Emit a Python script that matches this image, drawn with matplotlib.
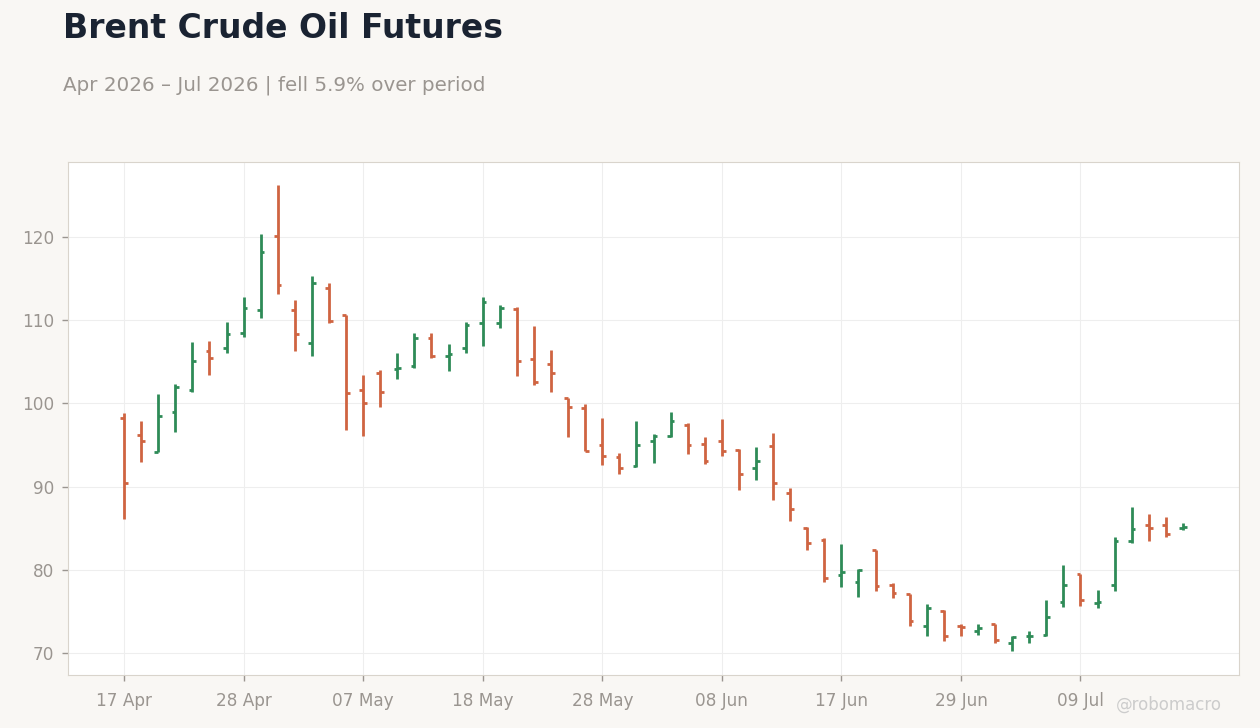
import matplotlib

matplotlib.use("Agg")

import matplotlib.pyplot as plt
import numpy as np
import pandas as pd

# trading days, US market holidays skipped
holidays = ["2026-05-25", "2026-06-19", "2026-07-03"]
dates = pd.bdate_range("2026-04-17", "2026-07-17")
dates = dates[~dates.isin(pd.to_datetime(holidays))]

opens = [98.3, 96.2, 94.1, 99.0, 101.6, 106.3, 106.6, 108.4, 111.2, 120.1,
         111.2, 107.2, 113.9, 110.6, 101.6, 103.7, 104.1, 104.5, 107.8, 105.7,
         106.7, 109.7, 109.6, 111.3, 105.3, 104.7, 100.6, 99.5, 95.0, 93.5,
         92.5, 95.5, 96.1, 97.4, 95.1, 95.5, 94.4, 92.2, 94.9, 89.2,
         85.0, 83.6, 79.4, 78.5, 82.4, 78.2, 77.1, 73.2, 75.1, 73.3,
         72.7, 73.5, 71.2, 72.0, 72.2, 76.1, 79.5, 76.0, 78.2, 83.5,
         85.4, 85.4, 85.0]
highs = [98.9, 97.9, 101.1, 102.3, 107.4, 107.5, 109.8, 112.8, 120.4, 126.2,
         112.4, 115.3, 114.5, 110.6, 103.4, 104.0, 106.1, 108.5, 108.4, 107.1,
         109.8, 112.8, 111.8, 111.6, 109.3, 106.4, 100.7, 99.9, 98.2, 94.0,
         97.9, 96.3, 99.0, 97.6, 95.9, 98.1, 94.5, 94.7, 96.4, 89.8,
         85.2, 83.8, 83.1, 80.1, 82.4, 78.4, 77.1, 75.9, 75.2, 73.5,
         73.5, 73.5, 72.0, 72.7, 76.4, 80.6, 79.5, 77.6, 83.9, 87.6,
         86.7, 86.3, 85.6]
lows = [86.1, 92.9, 94.1, 96.6, 101.4, 103.4, 106.0, 108.0, 110.3, 113.1,
        106.3, 105.7, 109.7, 96.8, 96.1, 99.6, 102.9, 104.2, 105.4, 103.9,
        106.1, 106.9, 109.0, 103.3, 102.2, 101.4, 96.0, 94.3, 92.6, 91.5,
        92.4, 92.8, 96.0, 93.9, 92.7, 93.7, 89.6, 90.8, 88.4, 85.9,
        82.4, 78.5, 77.9, 76.7, 77.4, 76.6, 73.2, 72.1, 71.5, 72.0,
        72.2, 71.2, 70.2, 71.2, 72.1, 75.5, 75.7, 75.4, 77.4, 83.2,
        83.5, 83.9, 84.8]
closes = [90.4, 95.5, 98.5, 102.0, 105.1, 105.4, 108.3, 111.4, 118.2, 114.2,
          108.3, 114.5, 109.9, 101.3, 100.1, 101.4, 104.3, 107.9, 105.7, 105.9,
          109.4, 112.2, 111.4, 105.1, 102.6, 103.6, 99.6, 94.3, 93.7, 92.2,
          95.0, 96.1, 97.9, 95.0, 93.1, 94.3, 91.5, 93.1, 90.4, 87.3,
          83.2, 79.0, 79.7, 80.0, 78.0, 77.2, 73.8, 75.4, 72.1, 73.1,
          73.0, 71.6, 71.9, 72.1, 74.3, 78.2, 76.4, 76.1, 83.5, 84.9,
          85.0, 84.3, 85.1]

UP_COLOR = "#2e8b57"
DOWN_COLOR = "#cf6441"
BG = "#f9f7f4"

fig = plt.figure(figsize=(12.6, 7.28), dpi=100, facecolor=BG)
ax = fig.add_axes([68 / 1260, 1 - 675 / 728, (1239 - 68) / 1260, (675 - 162) / 728])
ax.set_facecolor("white")

x = np.arange(len(dates))
o, h, l, c = (np.array(v) for v in (opens, highs, lows, closes))
colors = [UP_COLOR if cc >= oo else DOWN_COLOR for oo, cc in zip(o, c)]
tick = 0.22

ax.vlines(x, l, h, colors=colors, linewidth=2, zorder=3)
ax.hlines(o, x - tick, x, colors=colors, linewidth=2, zorder=3)
ax.hlines(c, x, x + tick, colors=colors, linewidth=2, zorder=3)

ax.set_xlim(-3.28, len(dates) - 1 + 3.28)
ax.set_ylim(67.36, 129.0)
ax.set_yticks([70, 80, 90, 100, 110, 120])

tick_idx = list(range(0, len(dates), 7))
ax.set_xticks(tick_idx)
ax.set_xticklabels([dates[i].strftime("%d %b") for i in tick_idx])

ax.grid(True, color="#eeeeee", linewidth=0.8, zorder=0)
ax.set_axisbelow(True)
for s in ax.spines.values():
    s.set_color("#d9d4cc")
ax.tick_params(colors="#9a9590", labelsize=12.2, length=4, width=1)
ax.tick_params(axis="x", pad=8)
ax.tick_params(axis="y", pad=6)

fig.text(63 / 1260, 1 - 29 / 728, "Brent Crude Oil Futures", fontsize=23.8,
         fontweight="bold", color="#1a2332", va="center", ha="left")
pct = (closes[-1] / closes[0] - 1) * 100
direction = "fell" if pct < 0 else "rose"
fig.text(63 / 1260, 1 - 85 / 728,
         "Apr 2026 \u2013 Jul 2026 | {} {:.1f}% over period".format(direction, abs(pct)),
         fontsize=14.3, color="#9a9590", va="center", ha="left")
fig.text(1222 / 1260, 1 - 705 / 728, "@robomacro", fontsize=12, color="#cccccc",
         va="center", ha="right")

plt.savefig("out.png", dpi=100, facecolor=BG)
